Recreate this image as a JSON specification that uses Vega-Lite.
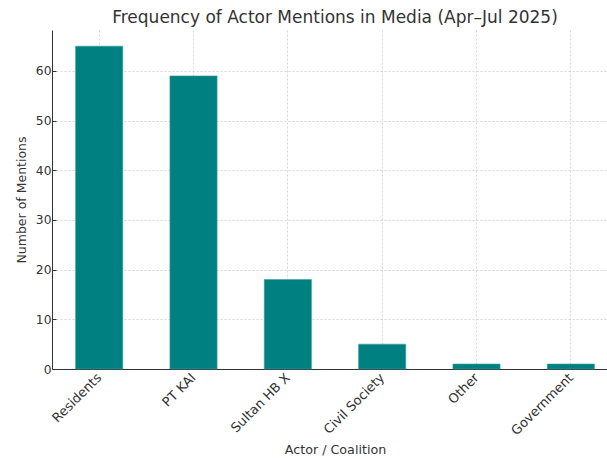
{
  "$schema": "https://vega.github.io/schema/vega-lite/v6.json",
  "autosize": "none",
  "padding": {"left": 52, "top": 30, "right": 0, "bottom": 90},
  "width": 566,
  "height": 339,
  "title": {"text": "Frequency of Actor Mentions in Media (Apr–Jul 2025)", "font": "DejaVu Sans", "fontSize": 17, "fontWeight": "normal", "color": "#333333", "anchor": "middle", "offset": 3},
  "data": {"values": [
    {"actor": "Residents", "mentions": 65},
    {"actor": "PT KAI", "mentions": 59},
    {"actor": "Sultan HB X", "mentions": 18},
    {"actor": "Civil Society", "mentions": 5},
    {"actor": "Other", "mentions": 1},
    {"actor": "Government", "mentions": 1}
  ]},
  "mark": {"type": "bar", "color": "#008080", "stroke": "#3aa0a0", "strokeWidth": 0.6},
  "encoding": {
    "x": {"field": "actor", "type": "nominal", "sort": null,
      "scale": {"paddingInner": 0.5, "paddingOuter": 0.25},
      "axis": {"title": "Actor / Coalition", "labelAngle": -45, "labelAlign": "right", "labelBaseline": "top",
        "labelFont": "DejaVu Sans", "labelFontSize": 13, "labelColor": "#333333", "labelOffset": -4,
        "titleFont": "DejaVu Sans", "titleFontSize": 12.7, "titleFontWeight": "normal", "titleColor": "#333333",
        "domainColor": "#333333", "tickColor": "#333333", "tickSize": -4, "labelPadding": 6, "titlePadding": 6,
        "grid": true, "gridColor": "#cccccc", "gridDash": [2, 2], "gridWidth": 0.8}},
    "y": {"field": "mentions", "type": "quantitative",
      "scale": {"domain": [0, 68.25], "nice": false, "zero": true},
      "axis": {"title": "Number of Mentions", "values": [0, 10, 20, 30, 40, 50, 60],
        "labelFont": "DejaVu Sans", "labelFontSize": 12.3, "labelColor": "#333333",
        "titleFont": "DejaVu Sans", "titleFontSize": 12.5, "titleFontWeight": "normal", "titleColor": "#333333",
        "domainColor": "#333333", "tickColor": "#333333", "tickSize": -4, "labelPadding": 5, "titlePadding": 7,
        "grid": true, "gridColor": "#cccccc", "gridDash": [2, 2], "gridWidth": 0.8}}
  },
  "config": {"view": {"stroke": null}, "background": "white"}
}
